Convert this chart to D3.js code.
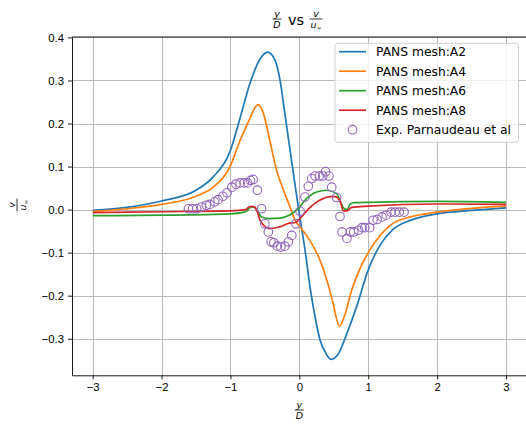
<!DOCTYPE html>
<html>
  <head>
    <meta charset="utf-8">
    <style>
      body { margin: 0; background: #fff; }
      svg { font-family: "DejaVu Sans", sans-serif; }
      .grid line { stroke: #b0b0b0; stroke-width: 0.9px; shape-rendering: crispEdges; }
      .grid path { stroke-width: 0; }
      .axis text { font-size: 11.4px; fill: #000; }
      .axis line, .axis path { stroke: #000; stroke-width: 0.9px; }
      .line { fill: none; stroke-width: 1.7px; stroke-linejoin: round; }
    </style>
    <script src="https://d3js.org/d3.v7.min.js"></script>
  </head>
  <body>
    <script>
      // tick values
      var xTicks = [-3, -2, -1, 0, 1, 2, 3];
      var yTicks = [-0.3, -0.2, -0.1, 0.0, 0.1, 0.2, 0.3, 0.4];

      // PANS mesh:A2
      var a2X = [-3, -2.5, -2, -1.5, -1.25, -1, -0.86, -0.72, -0.57, -0.46, -0.35, -0.28, -0.21, -0.135, -0.06, -0.01,
                 0.083, 0.155, 0.228, 0.3, 0.4, 0.46, 0.57, 0.69, 0.83, 1.0, 1.17, 1.36, 1.61, 2.0, 2.5, 3.0];
      var a2Y = [-0.002, 0.005, 0.02, 0.045, 0.076, 0.138, 0.213, 0.292, 0.35, 0.366, 0.346, 0.3, 0.223, 0.138, 0.055, 0.0,
                 -0.094, -0.18, -0.249, -0.303, -0.338, -0.348, -0.334, -0.288, -0.226, -0.14, -0.083, -0.046, -0.025, -0.01, -0.002, 0.004];

      // PANS mesh:A4
      var a4X = [-3, -2.5, -2, -1.5, -1.25, -1, -0.86, -0.72, -0.64, -0.6, -0.56, -0.52, -0.43, -0.33, -0.23, -0.135, -0.06,
                 0.035, 0.155, 0.28, 0.4, 0.49, 0.58, 0.66, 0.76, 0.88, 1.0, 1.17, 1.36, 1.61, 2.0, 2.5, 3.0];
      var a4Y = [-0.004, 0.002, 0.012, 0.031, 0.052, 0.102, 0.161, 0.211, 0.238, 0.244, 0.238, 0.223, 0.161, 0.091, 0.045, 0.006, -0.025,
                 -0.045, -0.072, -0.11, -0.164, -0.218, -0.271, -0.245, -0.187, -0.137, -0.1, -0.06, -0.032, -0.017, -0.006, 0.003, 0.008];

      // PANS mesh:A6
      var a6X = [-3, -2, -1, -0.8, -0.76, -0.72, -0.69, -0.64, -0.61, -0.55, -0.43, -0.28, -0.135, -0.015,
                 0.107, 0.25, 0.4, 0.54, 0.64, 0.69, 0.74, 0.8, 1.0, 2.0, 3.0];
      var a6Y = [-0.014, -0.013, -0.01, -0.006, -0.003, 0.004, 0.006, 0.004, -0.002, -0.017, -0.021, -0.02, -0.012, 0.003,
                 0.026, 0.041, 0.045, 0.037, 0.004, 0.0, 0.013, 0.016, 0.017, 0.019, 0.017];

      // PANS mesh:A8
      var a8X = [-3, -2, -1, -0.78, -0.72, -0.66, -0.61, -0.57, -0.43, -0.28, -0.16, -0.06, 0.03,
                 0.155, 0.3, 0.45, 0.52, 0.59, 0.64, 0.69, 0.76, 1.0, 2.0, 3.0];
      var a8Y = [-0.007, -0.005, -0.003, 0.0, 0.007, 0.007, -0.005, -0.025, -0.044, -0.04, -0.032, -0.03, -0.017,
                 0.005, 0.022, 0.03, 0.03, 0.02, -0.003, -0.003, 0.005, 0.008, 0.013, 0.012];

      // Exp. Parnaudeau et al
      var expX = [-1.61, -1.55, -1.49, -1.42, -1.35, -1.3, -1.23, -1.18, -1.11, -1.05, -0.98, -0.92, -0.86, -0.8, -0.75, -0.71, -0.67,
                  -0.61, -0.55, -0.5, -0.45, -0.41, -0.37, -0.32, -0.27, -0.21, -0.16, -0.11, -0.05, 0.01,
                  0.08, 0.13, 0.18, 0.23, 0.29, 0.34, 0.38, 0.43, 0.47, 0.54, 0.59, 0.62, 0.69, 0.74, 0.79, 0.86, 0.91, 0.95, 1.02,
                  1.07, 1.13, 1.2, 1.26, 1.33, 1.39, 1.45, 1.52];
      var expY = [0.002, 0.002, 0.002, 0.006, 0.01, 0.012, 0.018, 0.023, 0.031, 0.039, 0.052, 0.059, 0.062, 0.062, 0.062, 0.068, 0.07,
                  0.045, 0.002, -0.033, -0.052, -0.075, -0.077, -0.085, -0.087, -0.085, -0.075, -0.06, -0.033, -0.004,
                  0.029, 0.054, 0.072, 0.078, 0.078, 0.078, 0.088, 0.078, 0.052, 0.028, -0.016, -0.052, -0.067, -0.052, -0.052, -0.048, -0.042, -0.042, -0.042,
                  -0.025, -0.023, -0.017, -0.013, -0.006, -0.006, -0.006, -0.006];

      var seriesNames = ["PANS mesh:A2", "PANS mesh:A4", "PANS mesh:A6", "PANS mesh:A8"];
      var seriesColors = ["#1f77b4", "#ff7f0e", "#2ca02c", "#d62728"];
      var expName = "Exp. Parnaudeau et al";
      var expColor = "#9467bd";

      var W = 526, H = 425;
      var margin = {top: 37, left: 72};
      var width = 454.7, height = 338.3;

      var svg = d3.select("body").append("svg")
        .attr("width", W)
        .attr("height", H);
      svg.append("rect").attr("width", W).attr("height", H).attr("fill", "#fff");

      var g = svg.append("g")
        .attr("transform", "translate(" + margin.left + "," + margin.top + ")");

      var x = d3.scaleLinear().domain([-3.3, 3.3]).range([0, width]);
      var y = d3.scaleLinear().domain([-0.385, 0.401]).range([height, 0]);

      function minus(s) { return String(s).replace("-", "\u2212"); }

      // gridlines
      g.append("g")
        .attr("class", "grid")
        .attr("transform", "translate(0," + height + ")")
        .call(d3.axisBottom(x).tickValues(xTicks).tickSize(-height).tickFormat(""));
      g.append("g")
        .attr("class", "grid")
        .call(d3.axisLeft(y).tickValues(yTicks).tickSize(-width).tickFormat(""));

      // curves
      var series = [[a2X, a2Y], [a4X, a4Y], [a6X, a6Y], [a8X, a8Y]];
      var line = d3.line()
        .x(function(d) { return x(d[0]); })
        .y(function(d) { return y(d[1]); })
        .curve(d3.curveMonotoneX);

      series.forEach(function(s, i) {
        var pts = s[0].map(function(v, j) { return [v, s[1][j]]; });
        g.append("path")
          .datum(pts)
          .attr("class", "line")
          .attr("stroke", seriesColors[i])
          .attr("d", line);
      });

      // experimental points
      var expPts = expX.map(function(v, j) { return [v, expY[j]]; });
      g.append("g").selectAll("circle")
        .data(expPts)
        .enter().append("circle")
        .attr("cx", function(d) { return x(d[0]); })
        .attr("cy", function(d) { return y(d[1]); })
        .attr("r", 4.3)
        .attr("fill", "none")
        .attr("stroke", expColor)
        .attr("stroke-width", 1.1);

      // axes / spines
      g.append("g")
        .attr("class", "axis")
        .attr("transform", "translate(0," + height + ")")
        .call(d3.axisBottom(x).tickValues(xTicks).tickSize(4).tickSizeOuter(0).tickPadding(4)
          .tickFormat(function(d) { return minus(d); }));
      g.append("g")
        .attr("class", "axis")
        .call(d3.axisLeft(y).tickValues(yTicks).tickSize(4).tickSizeOuter(0).tickPadding(4)
          .tickFormat(function(d) { return minus(d3.format(".1f")(d)); }));
      g.append("line")
        .attr("x1", 0).attr("x2", width).attr("y1", 0).attr("y2", 0)
        .attr("stroke", "#000").attr("stroke-width", 0.9);
      g.append("line")
        .attr("x1", width).attr("x2", width).attr("y1", 0).attr("y2", height)
        .attr("stroke", "#000").attr("stroke-width", 0.9);

      // math fraction helper
      function frac(parent, cx, cy, num, den, sub, size) {
        var f = parent.append("g").attr("transform", "translate(" + cx + "," + cy + ")");
        f.append("text")
          .attr("x", 0).attr("y", -2)
          .attr("text-anchor", "middle")
          .attr("font-size", size)
          .attr("font-style", "italic")
          .text(num);
        var d = f.append("text")
          .attr("x", 0).attr("y", size * 0.85 + 0.5)
          .attr("text-anchor", "middle")
          .attr("font-size", size)
          .attr("font-style", "italic");
        d.append("tspan").text(den);
        if (sub) {
          d.append("tspan").attr("font-size", size * 0.6).attr("font-style", "normal").attr("dy", 2).text(sub);
        }
        var w = sub ? size * 1.25 : size * 0.85;
        f.append("line")
          .attr("x1", -w / 2 - 0.5).attr("x2", w / 2 + 0.5)
          .attr("y1", 0).attr("y2", 0)
          .attr("stroke", "#000").attr("stroke-width", 0.8);
        return f;
      }

      // title
      frac(svg, 277, 19, "y", "D", null, 9.5);
      svg.append("text")
        .attr("x", 296).attr("y", 25)
        .attr("text-anchor", "middle")
        .attr("font-size", 14.5)
        .text("vs");
      frac(svg, 316, 19, "v", "u", "\u221e", 9.5);

      // axis labels
      frac(svg, 299.3, 410, "y", "D", null, 9.5);
      var yl = svg.append("g").attr("transform", "translate(17,205) rotate(-90)");
      frac(yl, 0, 0, "v", "u", "\u221e", 9.5);

      // legend
      var lg = svg.append("g").attr("transform", "translate(335,43.3)");
      lg.append("rect")
        .attr("width", 183.5).attr("height", 99)
        .attr("rx", 2.5)
        .attr("fill", "#fff").attr("fill-opacity", 0.8)
        .attr("stroke", "#cccccc").attr("stroke-width", 0.9);
      var rowY = [8.4, 27.9, 47.4, 66.9, 86.4];
      seriesNames.forEach(function(name, i) {
        lg.append("line")
          .attr("x1", 4).attr("x2", 31)
          .attr("y1", rowY[i]).attr("y2", rowY[i])
          .attr("stroke", seriesColors[i]).attr("stroke-width", 1.7);
        lg.append("text")
          .attr("x", 41).attr("y", rowY[i])
          .attr("dy", "0.36em")
          .attr("font-size", 12.3)
          .text(name);
      });
      lg.append("circle")
        .attr("cx", 17.5).attr("cy", rowY[4])
        .attr("r", 4.3)
        .attr("fill", "none").attr("stroke", expColor).attr("stroke-width", 1.1);
      lg.append("text")
        .attr("x", 41).attr("y", rowY[4])
        .attr("dy", "0.36em")
        .attr("font-size", 12.3)
        .text(expName);
    </script>
  </body>
</html>
